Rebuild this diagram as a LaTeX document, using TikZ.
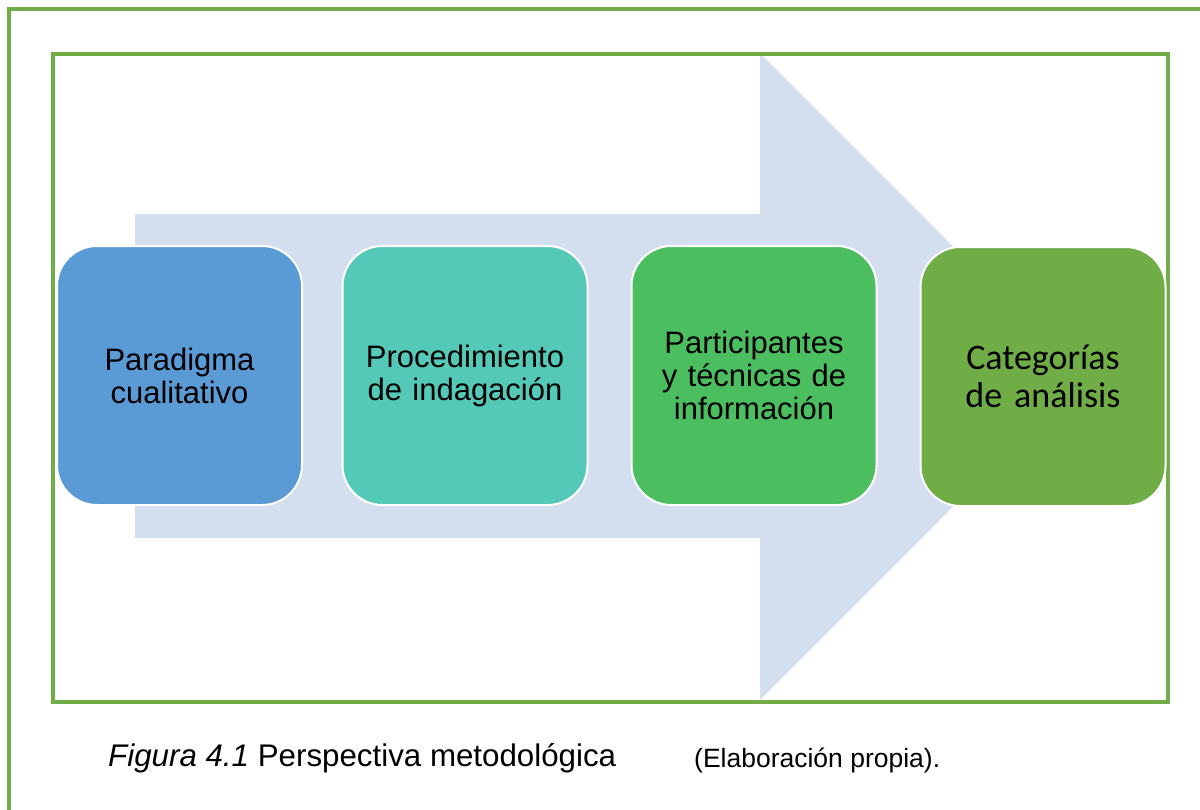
\documentclass[tikz,border=0pt]{standalone}
\usepackage{fontspec}
\setmainfont{Liberation Sans}
\newfontfamily\calibri{Carlito}
\definecolor{frame}{HTML}{70AD47}
\definecolor{arrowfill}{HTML}{D3DEEF}
\definecolor{cA}{HTML}{5B9BD5}
\definecolor{cB}{HTML}{54C9B8}
\definecolor{cC}{HTML}{4BBF60}
\definecolor{cD}{HTML}{70AD47}
\begin{document}
\begin{tikzpicture}[x=1pt,y=-1pt,
  stage/.style={draw=white,line width=2pt,rounded corners=40pt,minimum width=245pt,minimum height=259pt,inner sep=0pt,align=center,text width=230pt,font=\fontsize{31}{33}\selectfont,text=black},
  framebox/.style={draw=frame,line width=4pt}]
\useasboundingbox (0,0) rectangle (1200,809);
\begin{scope}
\clip (0,0) rectangle (1200,809);
\draw[framebox] (9,820) -- (9,9) -- (1210,9);
\end{scope}
\fill[arrowfill] (135,214) -- (760,214) -- (760,53) -- (1083,376.5) -- (760,700) -- (760,538) -- (135,538) -- cycle;
\draw[framebox] (53,54) rectangle (1168,702);
\node[stage,fill=cA] (a) at (179.5,375.5) {Paradigma\\cualitativo};
\node[stage,fill=cB] (b) at (465,375.5) {Procedimiento\\de indagación};
\node[stage,fill=cC] (c) at (754,375.5) {Participantes\\y técnicas de\\información};
\node[stage,fill=cD,font=\calibri\fontsize{36}{38}\selectfont] (d) at (1043,376.5) {Categorías\\de análisis};
\node[anchor=base west,inner sep=0pt,font=\fontsize{31.3}{34}\selectfont] (cap) at (108,766) {\textit{Figura 4.1} Perspectiva metodológica};
\node[anchor=base west,inner sep=0pt,font=\fontsize{26.5}{30}\selectfont] (src) at (694,767) {(Elaboración propia).};
\end{tikzpicture}
\end{document}
